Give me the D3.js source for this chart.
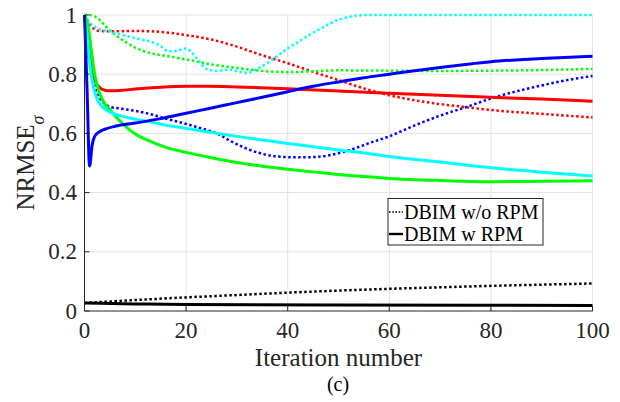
<!DOCTYPE html>
<html><head><meta charset="utf-8">
<script src="https://cdn.jsdelivr.net/npm/d3@7"></script>
<style>body{margin:0;background:#fff}svg{display:block}</style>
</head><body><svg id="c" width="620" height="402"></svg>
<script>
// ---- data ----
const xTicks = [0, 20, 40, 60, 80, 100];
const yTicks = [0, 0.2, 0.4, 0.6, 0.8, 1];
const yTickLabels = ["0", "0.2", "0.4", "0.6", "0.8", "1"];
const xLabel = "Iteration number";
const caption = "(c)";
const legendLabels = ["DBIM w/o RPM", "DBIM w RPM"];

const redDotX = [0, 1, 2, 3, 5, 10, 15, 20, 25, 30, 35, 40, 45, 50, 55, 60, 65, 70, 75, 80, 90, 100];
const redDotY = [1.0, 0.97, 0.952, 0.946, 0.945, 0.946, 0.943, 0.932, 0.917, 0.893, 0.864, 0.837, 0.808, 0.78, 0.752, 0.729, 0.712, 0.699, 0.689, 0.679, 0.666, 0.654];

const redSolX = [0, 1, 1.5, 2, 3, 4, 5, 7, 10, 15, 20, 25, 30, 40, 50, 60, 70, 80, 90, 100];
const redSolY = [1.0, 0.87, 0.81, 0.78, 0.755, 0.746, 0.744, 0.745, 0.75, 0.756, 0.759, 0.759, 0.757, 0.751, 0.743, 0.736, 0.729, 0.722, 0.716, 0.709];

const greenDotX = [0, 1, 2, 3, 4, 5, 6, 8, 10, 13, 16, 20, 25, 30, 35, 40, 45, 50, 60, 70, 80, 90, 100];
const greenDotY = [1.0, 1.0, 0.995, 0.983, 0.965, 0.948, 0.933, 0.91, 0.89, 0.871, 0.862, 0.85, 0.833, 0.821, 0.811, 0.807, 0.81, 0.813, 0.812, 0.811, 0.812, 0.814, 0.818];

const greenSolX = [0, 0.5, 1, 1.5, 2, 3, 4, 5, 6, 8, 10, 13, 16, 20, 25, 30, 35, 40, 45, 50, 55, 60, 70, 80, 90, 100];
const greenSolY = [1.0, 0.98, 0.93, 0.86, 0.8, 0.735, 0.7, 0.68, 0.66, 0.625, 0.598, 0.573, 0.553, 0.536, 0.518, 0.502, 0.489, 0.479, 0.47, 0.461, 0.454, 0.448, 0.441, 0.437, 0.438, 0.44];

const cyanSolX = [0, 0.5, 1, 1.5, 2, 3, 4, 5, 7, 10, 13, 16, 20, 25, 30, 35, 40, 45, 50, 55, 60, 70, 80, 90, 100];
const cyanSolY = [1.0, 0.93, 0.84, 0.78, 0.74, 0.7, 0.683, 0.672, 0.66, 0.648, 0.639, 0.628, 0.617, 0.603, 0.59, 0.578, 0.566, 0.555, 0.544, 0.534, 0.522, 0.503, 0.484, 0.469, 0.456];

const cyanDotX = [0, 1, 2, 3, 5, 8, 11, 13, 15, 16.5, 18, 20, 21, 22.5, 24, 26, 28.5, 30, 32, 34, 36, 38, 40, 42, 44, 46, 48, 50, 52, 54, 56, 70, 85, 100];
const cyanDotY = [1.0, 0.975, 0.96, 0.952, 0.944, 0.93, 0.918, 0.91, 0.895, 0.877, 0.878, 0.887, 0.875, 0.845, 0.818, 0.811, 0.816, 0.81, 0.805, 0.818, 0.838, 0.862, 0.887, 0.908, 0.93, 0.95, 0.968, 0.984, 0.993, 0.999, 1.0, 1.0, 1.0, 1.0];

const blueSolX = [0, 0.5, 1, 1.5, 2, 3, 4, 6, 10, 15, 20, 25, 30, 35, 40, 45, 50, 55, 60, 65, 70, 75, 80, 90, 100];
const blueSolY = [1.0, 0.75, 0.49, 0.56, 0.59, 0.606, 0.614, 0.624, 0.635, 0.65, 0.668, 0.686, 0.704, 0.722, 0.741, 0.759, 0.774, 0.788, 0.8, 0.812, 0.823, 0.833, 0.842, 0.853, 0.861];

const blueDotX = [0, 1, 2, 3, 4, 5, 7, 10, 13, 16, 20, 23, 26, 29, 32, 35, 38, 42, 46, 50, 53, 56, 60, 65, 70, 75, 80, 85, 90, 95, 100];
const blueDotY = [1.0, 0.84, 0.76, 0.72, 0.7, 0.69, 0.684, 0.676, 0.665, 0.65, 0.632, 0.617, 0.6, 0.572, 0.548, 0.531, 0.522, 0.519, 0.521, 0.533, 0.548, 0.567, 0.59, 0.627, 0.66, 0.688, 0.718, 0.742, 0.762, 0.78, 0.794];

const blackDotX = [0, 10, 20, 30, 40, 50, 60, 70, 80, 90, 100];
const blackDotY = [0.027, 0.037, 0.046, 0.054, 0.062, 0.069, 0.075, 0.08, 0.085, 0.089, 0.093];

const blackSolX = [0, 10, 20, 50, 100];
const blackSolY = [0.027, 0.024, 0.022, 0.02, 0.019];

// ---- drawing ----
const svg = d3.select("#c");
const L = 84.5, R = 592.5, T = 15, B = 311;
const x = d3.scaleLinear().domain([0, 100]).range([L, R]);
const y = d3.scaleLinear().domain([0, 1]).range([B, T]);
const font = "'Liberation Serif','Times New Roman',serif";
const gridColor = "#e2e2e2";

// grid
svg.append("g").selectAll("line").data(xTicks.filter(d => d > 0)).join("line")
  .attr("x1", d => x(d)).attr("x2", d => x(d)).attr("y1", T).attr("y2", B)
  .attr("stroke", gridColor).attr("stroke-width", 1);
svg.append("g").selectAll("line").data(yTicks.filter(d => d > 0)).join("line")
  .attr("x1", L).attr("x2", R).attr("y1", d => y(d)).attr("y2", d => y(d))
  .attr("stroke", gridColor).attr("stroke-width", 1);

const series = [
  {xs: redDotX, ys: redDotY, color: "#ff0000", dotted: true},
  {xs: greenDotX, ys: greenDotY, color: "#00ff00", dotted: true},
  {xs: cyanDotX, ys: cyanDotY, color: "#00ffff", dotted: true},
  {xs: blueDotX, ys: blueDotY, color: "#0000ff", dotted: true},
  {xs: blackDotX, ys: blackDotY, color: "#000000", dotted: true},
  {xs: redSolX, ys: redSolY, color: "#ff0000", dotted: false},
  {xs: greenSolX, ys: greenSolY, color: "#00ff00", dotted: false},
  {xs: cyanSolX, ys: cyanSolY, color: "#00ffff", dotted: false},
  {xs: blueSolX, ys: blueSolY, color: "#0000ff", dotted: false},
  {xs: blackSolX, ys: blackSolY, color: "#000000", dotted: false}
];
const line = d3.line().x(d => x(d[0])).y(d => y(d[1])).curve(d3.curveMonotoneX);
const lg = svg.append("g");
series.forEach(s => {
  const pts = s.xs.map((v, i) => [v, s.ys[i]]);
  lg.append("path").datum(pts).attr("d", line)
    .attr("fill", "none").attr("stroke", s.color)
    .attr("stroke-width", s.dotted ? 2.5 : 3)
    .attr("stroke-dasharray", s.dotted ? "2.5,2.5" : null)
    .attr("stroke-linejoin", "round");
});

// axes (left & bottom black, inward ticks)
const ax = svg.append("g").attr("stroke", "#262626").attr("stroke-width", 1);
ax.append("line").attr("x1", L).attr("x2", L).attr("y1", T).attr("y2", B);
ax.append("line").attr("x1", L).attr("x2", R).attr("y1", B).attr("y2", B);
ax.selectAll(".xt").data(xTicks).join("line")
  .attr("x1", d => x(d)).attr("x2", d => x(d)).attr("y1", B).attr("y2", B - 5);
ax.selectAll(".yt").data(yTicks).join("line")
  .attr("x1", L).attr("x2", L + 5).attr("y1", d => y(d)).attr("y2", d => y(d));

// tick labels
svg.append("g").selectAll("text").data(xTicks).join("text")
  .attr("x", d => x(d)).attr("y", 338).attr("text-anchor", "middle")
  .attr("font-family", font).attr("font-size", 23).attr("fill", "#262626")
  .text(d => d);
svg.append("g").selectAll("text").data(yTicks).join("text")
  .attr("x", 77).attr("y", d => y(d) + 7.5).attr("text-anchor", "end")
  .attr("font-family", font).attr("font-size", 23).attr("fill", "#262626")
  .text((d, i) => yTickLabels[i]);

// axis labels
svg.append("text").attr("x", x(50)).attr("y", 366).attr("text-anchor", "middle")
  .attr("font-family", font).attr("font-size", 25).attr("fill", "#262626").text(xLabel);
const yl = svg.append("text").attr("transform", "translate(34,163) rotate(-90)")
  .attr("text-anchor", "middle").attr("font-family", font).attr("font-size", 25).attr("fill", "#262626");
yl.append("tspan").text("NRMSE");
yl.append("tspan").attr("baseline-shift", "sub").attr("font-size", 18).attr("font-style", "italic").text("σ");

svg.append("text").attr("x", 338).attr("y", 391).attr("text-anchor", "middle")
  .attr("font-family", font).attr("font-size", 20).attr("fill", "#000").text(caption);

// legend
const leg = svg.append("g");
leg.append("rect").attr("x", 388).attr("y", 198.5).attr("width", 155).attr("height", 46.5)
  .attr("fill", "#fff").attr("stroke", "#262626").attr("stroke-width", 1);
const legStyles = [true, false];
legendLabels.forEach((t, i) => {
  const yy = 212 + i * 22;
  leg.append("line").attr("x1", 389).attr("x2", 403).attr("y1", yy).attr("y2", yy)
    .attr("stroke", "#000").attr("stroke-width", legStyles[i] ? 1.6 : 2.4)
    .attr("stroke-dasharray", legStyles[i] ? "1.6,1.6" : null);
  leg.append("text").attr("x", 404).attr("y", yy + 7).attr("font-family", font)
    .attr("font-size", 20).attr("fill", "#000").text(t);
});
</script></body></html>
